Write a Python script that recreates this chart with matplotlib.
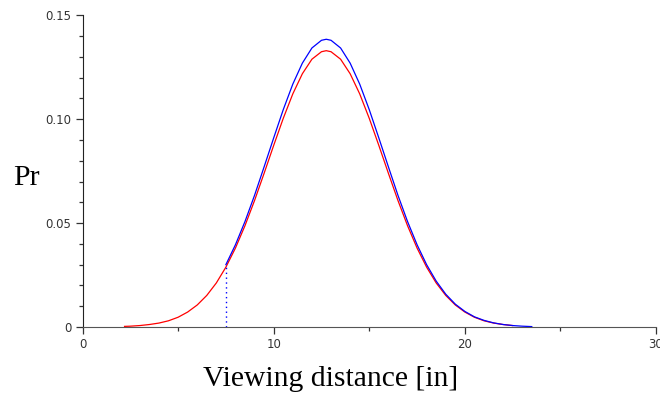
import matplotlib
matplotlib.use("Agg")
import matplotlib.pyplot as plt
from matplotlib.ticker import MultipleLocator, FixedLocator

# red curve: full distribution
red_x = [2.2, 2.5, 3.0, 3.5, 4.0, 4.5, 5.0, 5.5, 6.0, 6.5, 7.0, 7.5, 8.0, 8.5,
         9.0, 9.5, 10.0, 10.5, 11.0, 11.5, 12.0, 12.5, 12.75, 13.0, 13.5, 14.0,
         14.5, 15.0, 15.5, 16.0, 16.5, 17.0, 17.5, 18.0, 18.5, 19.0, 19.5, 20.0,
         20.5, 21.0, 21.5, 22.0, 22.5]
red_y = [0.0003, 0.0004, 0.0007, 0.0012, 0.0019, 0.0030, 0.0047, 0.0072, 0.0106,
         0.0152, 0.0212, 0.0288, 0.0380, 0.0488, 0.0609, 0.0740, 0.0874, 0.1004,
         0.1122, 0.1219, 0.1289, 0.1325, 0.1330, 0.1325, 0.1289, 0.1219, 0.1122,
         0.1004, 0.0874, 0.0740, 0.0609, 0.0488, 0.0380, 0.0288, 0.0212, 0.0152,
         0.0106, 0.0072, 0.0047, 0.0030, 0.0019, 0.0012, 0.0007]

# blue curve: truncated at 7.5 in
blue_x = [7.5, 8.0, 8.5, 9.0, 9.5, 10.0, 10.5, 11.0, 11.5, 12.0, 12.5, 12.75,
          13.0, 13.5, 14.0, 14.5, 15.0, 15.5, 16.0, 16.5, 17.0, 17.5, 18.0, 18.5,
          19.0, 19.5, 20.0, 20.5, 21.0, 21.5, 22.0, 22.5, 23.0, 23.5]
blue_y = [0.0300, 0.0396, 0.0508, 0.0634, 0.0771, 0.0910, 0.1046, 0.1169, 0.1270,
          0.1343, 0.1380, 0.1385, 0.1380, 0.1343, 0.1270, 0.1169, 0.1046, 0.0910,
          0.0771, 0.0634, 0.0508, 0.0396, 0.0300, 0.0221, 0.0158, 0.0110, 0.0075,
          0.0049, 0.0032, 0.0020, 0.0012, 0.0007, 0.0004, 0.0002]
cutoff = 7.5

x_ticks = [0, 10, 20, 30]
y_ticks = [0, 0.05, 0.10, 0.15]
y_labels = ["0", "0.05", "0.10", "0.15"]

fig = plt.figure(figsize=(6.6, 3.97), dpi=100)
ax = fig.add_axes([0.125, 0.1763, 0.869, 0.785])

ax.plot(red_x, red_y, color="red", linewidth=0.9)
ax.plot(blue_x, blue_y, color="blue", linewidth=0.9)
ax.vlines(cutoff, 0, blue_y[0], colors="blue", linestyles=(0, (1, 2.5)), linewidth=1.0)

ax.set_xlim(0, 30)
ax.set_ylim(0, 0.15)
ax.xaxis.set_major_locator(FixedLocator(x_ticks))
ax.xaxis.set_minor_locator(MultipleLocator(5))
ax.yaxis.set_major_locator(FixedLocator(y_ticks))
ax.yaxis.set_minor_locator(MultipleLocator(0.01))
ax.set_xticklabels([str(t) for t in x_ticks])
ax.set_yticklabels(y_labels)

for s in ["top", "right"]:
    ax.spines[s].set_visible(False)
ax.spines["left"].set_color("#222222")
ax.spines["bottom"].set_color("#555555")
ax.tick_params(which="major", length=5, width=0.9, color="#333333",
               labelsize=8.5, labelcolor="#333333", pad=3)
ax.tick_params(which="minor", length=3, width=0.9, color="#333333")

fig.text(0.5015, 0.0277, "Viewing distance [in]", family="Liberation Serif",
         fontsize=21.3, ha="center", va="baseline")
fig.text(0.02, 0.534, "Pr", family="Liberation Serif", fontsize=21.3,
         ha="left", va="baseline")

fig.savefig("out.png", dpi=100)
